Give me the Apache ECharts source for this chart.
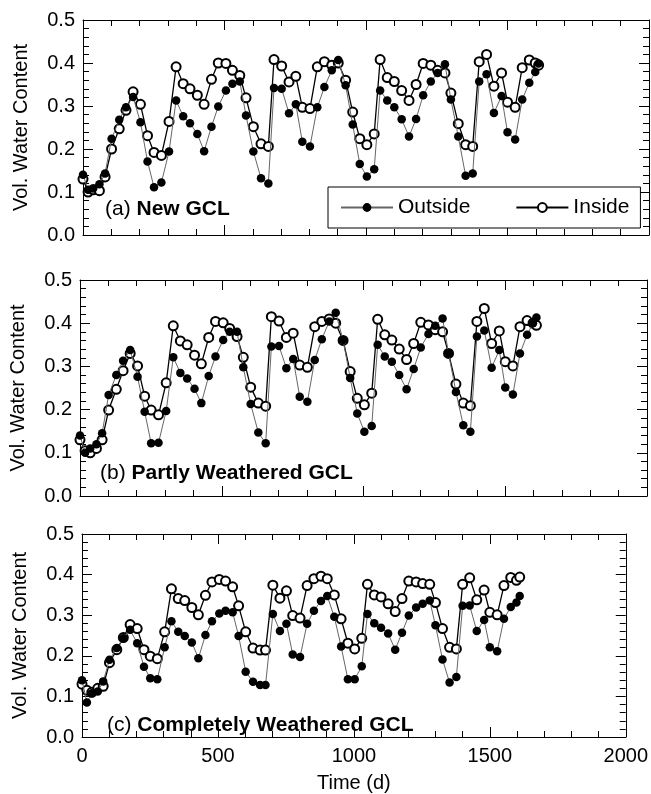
<!DOCTYPE html>
<html><head><meta charset="utf-8">
<script src="https://cdn.jsdelivr.net/npm/echarts/dist/echarts.min.js"></script>
<style>html,body{margin:0;padding:0;background:#fff}#c{width:651px;height:794px}</style>
</head><body><div id="c"></div>
<script>
const timeDays = [0,18,36,58,78,101,128,152,177,203,228,251,277,304,329,354,378,404,428,454,478,505,528,554,576,602,629,655,675,702,728,752,775,802,828,853,879,902,928,953,978,1003,1029,1050,1075,1100,1126,1152,1177,1202,1229,1253,1279,1300,1326,1352,1377,1400,1426,1452,1479,1500,1527,1552,1577,1598,1610];

const newOutside = [0.140,0.105,0.108,0.118,0.143,0.224,0.268,0.297,0.321,0.262,
0.171,0.111,0.122,0.194,0.313,0.276,0.260,0.235,0.195,0.252,
0.299,0.336,0.352,0.357,0.278,0.194,0.132,0.120,0.342,0.340,
0.283,0.304,0.217,0.206,0.297,0.344,0.383,0.407,0.348,0.257,
0.165,0.136,0.153,0.336,0.313,0.297,0.269,0.229,0.270,0.325,
0.357,0.377,0.397,0.315,0.229,0.138,0.143,0.357,0.374,0.284,
0.323,0.239,0.222,0.315,0.354,0.379,0.399];
const newInside = [0.130,0.100,0.105,0.103,0.135,0.200,0.247,0.290,0.333,0.304,
0.231,0.192,0.185,0.264,0.391,0.352,0.340,0.325,0.304,0.362,
0.400,0.399,0.383,0.371,0.319,0.252,0.212,0.206,0.408,0.393,
0.356,0.369,0.297,0.294,0.391,0.403,0.395,0.400,0.360,0.286,
0.224,0.210,0.235,0.408,0.366,0.357,0.336,0.313,0.350,0.399,
0.395,0.383,0.377,0.330,0.259,0.210,0.206,0.403,0.420,0.346,
0.377,0.309,0.297,0.389,0.407,0.400,0.395];

const partlyOutside = [0.140,0.100,0.110,0.120,0.145,0.234,0.280,0.313,0.338,0.276,
0.195,0.122,0.123,0.197,0.321,0.285,0.272,0.248,0.215,0.278,
0.323,0.361,0.380,0.380,0.298,0.213,0.147,0.122,0.346,0.347,
0.296,0.317,0.230,0.218,0.315,0.363,0.404,0.424,0.361,0.273,
0.191,0.149,0.162,0.350,0.323,0.311,0.280,0.247,0.294,0.344,
0.375,0.394,0.411,0.330,0.241,0.164,0.149,0.369,0.383,0.297,
0.338,0.251,0.235,0.330,0.373,0.400,0.413];
const partlyInside = [0.130,0.105,0.100,0.110,0.130,0.199,0.247,0.290,0.330,0.301,
0.231,0.199,0.188,0.262,0.394,0.359,0.350,0.326,0.306,0.367,
0.404,0.401,0.388,0.369,0.321,0.252,0.215,0.208,0.415,0.405,
0.367,0.377,0.303,0.298,0.392,0.404,0.410,0.400,0.360,0.288,
0.226,0.211,0.238,0.409,0.373,0.361,0.340,0.316,0.353,0.402,
0.396,0.385,0.380,0.330,0.259,0.215,0.209,0.404,0.434,0.353,
0.382,0.311,0.301,0.392,0.406,0.400,0.395];

const completeOutside = [0.140,0.085,0.108,0.112,0.137,0.190,0.219,0.243,0.264,0.231,
0.173,0.145,0.142,0.221,0.285,0.259,0.249,0.233,0.194,0.251,
0.285,0.304,0.311,0.307,0.249,0.161,0.136,0.128,0.128,0.303,
0.261,0.279,0.203,0.197,0.279,0.311,0.335,0.347,0.296,0.223,
0.142,0.142,0.174,0.303,0.280,0.269,0.255,0.215,0.257,0.299,
0.319,0.328,0.336,0.275,0.191,0.134,0.148,0.323,0.324,0.261,
0.288,0.221,0.211,0.291,0.320,0.331,0.347];
const completeInside = [0.130,0.115,0.110,0.120,0.125,0.183,0.215,0.245,0.277,0.267,
0.215,0.199,0.193,0.259,0.365,0.341,0.336,0.319,0.301,0.349,
0.382,0.388,0.384,0.370,0.323,0.259,0.219,0.214,0.214,0.374,
0.342,0.360,0.299,0.293,0.373,0.390,0.396,0.390,0.350,0.291,
0.231,0.217,0.243,0.376,0.350,0.345,0.328,0.309,0.341,0.384,
0.382,0.378,0.376,0.331,0.267,0.221,0.217,0.376,0.392,0.338,
0.362,0.307,0.301,0.373,0.393,0.386,0.394];

const xTicks = [0, 500, 1000, 1500, 2000];
const yTicks = [0.0, 0.1, 0.2, 0.3, 0.4, 0.5];
const panelTitles = [['(a) ', 'New GCL'], ['(b) ', 'Partly Weathered GCL'], ['(c) ', 'Completely Weathered GCL']];
const seriesNames = ['Outside', 'Inside'];
const panels = [[newOutside, newInside], [partlyOutside, partlyInside], [completeOutside, completeInside]];

const FONT = "'Liberation Sans', Arial, Helvetica, sans-serif";
const grids = [
  {left: 83, top: 20, width: 566, height: 215},
  {left: 79, top: 280, width: 568, height: 216},
  {left: 82, top: 534, width: 546, height: 210}
];
const tickCommon = {
  axisLine: {show: true, onZero: false, lineStyle: {color: '#000', width: 1}},
  axisTick: {show: true, inside: true, length: 10, lineStyle: {color: '#000', width: 1}},
  minorTick: {show: true, splitNumber: 5, length: 6, lineStyle: {color: '#000', width: 1}},
  splitLine: {show: false}, minorSplitLine: {show: false}
};
const xAxes = [], yAxes = [];
grids.forEach((g, i) => {
  ['bottom', 'top'].forEach(pos => {
    const showLab = (i === 2 && pos === 'bottom');
    xAxes.push(Object.assign({
      type: 'value', gridIndex: i, position: pos,
      min: xTicks[0], max: xTicks[xTicks.length - 1], interval: xTicks[1] - xTicks[0],
      axisLabel: {show: showLab, fontFamily: FONT, fontSize: 20, color: '#000', margin: 9,
        formatter: v => String(v)},
      name: showLab ? 'Time (d)' : '', nameLocation: 'middle', nameGap: 36,
      nameTextStyle: {fontFamily: FONT, fontSize: 20, color: '#000'}
    }, tickCommon));
  });
  ['left', 'right'].forEach(pos => {
    const showLab = pos === 'left';
    yAxes.push(Object.assign({
      type: 'value', gridIndex: i, position: pos,
      min: yTicks[0], max: yTicks[yTicks.length - 1], interval: 0.1,
      axisLabel: {show: showLab, fontFamily: FONT, fontSize: 20, color: '#000', margin: 8,
        formatter: v => v.toFixed(1)},
      name: showLab ? 'Vol. Water Content' : '', nameLocation: 'middle', nameGap: 52, nameRotate: 90,
      nameTextStyle: {fontFamily: FONT, fontSize: 20, color: '#000'}
    }, tickCommon));
  });
});

const series = [];
panels.forEach((p, i) => {
  series.push({
    name: seriesNames[1], type: 'line', xAxisIndex: 2 * i, yAxisIndex: 2 * i,
    data: timeDays.map((t, k) => [t, p[1][k]]),
    symbol: 'emptyCircle', symbolSize: 9, showAllSymbol: true,
    lineStyle: {color: '#000', width: 1.3},
    itemStyle: {color: '#000', borderColor: '#000', borderWidth: 1},
    emphasis: {disabled: true}, animation: false, clip: false, z: 2
  });
  series.push({
    name: seriesNames[0], type: 'line', xAxisIndex: 2 * i, yAxisIndex: 2 * i,
    data: timeDays.map((t, k) => [t, p[0][k]]),
    symbol: 'circle', symbolSize: 8.5, showAllSymbol: true,
    lineStyle: {color: '#666', width: 1},
    itemStyle: {color: '#000'},
    emphasis: {disabled: true}, animation: false, clip: false, z: 3
  });
});

const graphics = panelTitles.map((t, i) => ({
  type: 'text',
  left: [105, 100, 107][i],
  top: [199, 463, 715][i],
  style: {
    text: '{r|' + t[0] + '}{b|' + t[1] + '}',
    rich: {
      r: {fontFamily: FONT, fontSize: 21, fill: '#000'},
      b: {fontFamily: FONT, fontSize: 21, fontWeight: 'bold', fill: '#000'}
    }
  }
}));

const chart = echarts.init(document.getElementById('c'), null, {renderer: 'canvas'});
chart.setOption({
  backgroundColor: '#fff',
  animation: false,
  grid: grids,
  xAxis: xAxes,
  yAxis: yAxes,
  legend: {
    data: seriesNames,
    left: 328, top: 187,
    padding: [10, 11, 10, 12],
    itemWidth: 52, itemHeight: 11, itemGap: 45,
    borderColor: '#000', borderWidth: 1, backgroundColor: '#fff',
    textStyle: {fontFamily: FONT, fontSize: 21, color: '#000'},
    selectedMode: false
  },
  series: series,
  graphic: graphics
});
</script></body></html>
